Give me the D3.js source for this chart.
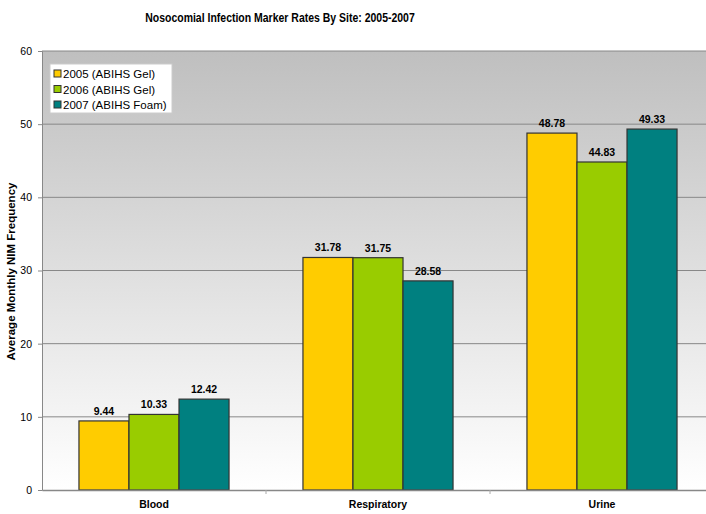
<!DOCTYPE html>
<html>
<head>
<meta charset="utf-8">
<title>Nosocomial Infection Marker Rates</title>
<script src="https://d3js.org/d3.v7.min.js"></script>
<style>
  body { margin: 0; background: #fff; }
  svg text { font-family: "Liberation Sans", Arial, sans-serif; fill: #000; }
</style>
</head>
<body>
<div id="chart"></div>
<script>
// data
const sites = ["Blood", "Respiratory", "Urine"];
const seriesNames = ["2005 (ABIHS Gel)", "2006 (ABIHS Gel)", "2007 (ABIHS Foam)"];
const values2005 = [9.44, 31.78, 48.78];
const values2006 = [10.33, 31.75, 44.83];
const values2007 = [12.42, 28.58, 49.33];
const yTicks = [0, 10, 20, 30, 40, 50, 60];
const colors = ["#ffcc00", "#99cc00", "#008080"];

const series = [values2005, values2006, values2007];

const W = 706, H = 514;
const margin = { top: 51, right: -8, bottom: 24, left: 42 };
const width = W - margin.left - margin.right;
const height = H - margin.top - margin.bottom;

const svg = d3.select("#chart").append("svg")
  .attr("width", W).attr("height", H);

const defs = svg.append("defs");
const grad = defs.append("linearGradient")
  .attr("id", "bg").attr("x1", 0).attr("y1", 0).attr("x2", 0).attr("y2", 1);
grad.append("stop").attr("offset", "0%").attr("stop-color", "#bfbfbf");
grad.append("stop").attr("offset", "100%").attr("stop-color", "#ffffff");

// title (narrow, like the original)
svg.append("text")
  .attr("transform", "translate(280,22) scale(0.86,1)")
  .attr("text-anchor", "middle")
  .style("font-size", "12.2px").style("font-weight", "bold")
  .text("Nosocomial Infection Marker Rates By Site: 2005-2007");

// y axis title
svg.append("text")
  .attr("transform", "translate(15," + (margin.top + height / 2 + 1) + ") rotate(-90)")
  .attr("text-anchor", "middle")
  .style("font-size", "11.5px").style("font-weight", "bold")
  .text("Average Monthly NIM Frequency");

const g = svg.append("g")
  .attr("transform", "translate(" + margin.left + "," + margin.top + ")");

const x0 = d3.scaleBand().domain(sites).range([0, width]).paddingInner(0.33).paddingOuter(0.165);
const x1 = d3.scaleBand().domain(d3.range(series.length)).range([0, x0.bandwidth()]);
const y = d3.scaleLinear().domain([0, 60]).range([height, 0]);

// plot background
g.append("rect")
  .attr("x", 0).attr("y", 0)
  .attr("width", width).attr("height", height)
  .attr("fill", "url(#bg)");

// gridlines
g.selectAll(".grid")
  .data(yTicks.filter(d => d > 0))
  .enter().append("line")
  .attr("class", "grid")
  .attr("x1", 0).attr("x2", width)
  .attr("y1", d => y(d)).attr("y2", d => y(d))
  .attr("stroke", "#888").attr("stroke-width", 1);

// y axis
const yAxis = g.append("g")
  .call(d3.axisLeft(y).tickValues(yTicks).tickSize(4).tickPadding(6));
yAxis.select(".domain").attr("stroke", "#888");
yAxis.selectAll(".tick line").attr("stroke", "#888");
yAxis.selectAll(".tick text")
  .style("font-size", "10.5px").style("font-family", "Liberation Sans, Arial, sans-serif");

// bars
const groups = g.selectAll(".site")
  .data(sites)
  .enter().append("g")
  .attr("class", "site")
  .attr("transform", d => "translate(" + x0(d) + ",0)");

groups.selectAll("rect")
  .data((d, i) => series.map((s, k) => ({ k: k, v: s[i] })))
  .enter().append("rect")
  .attr("x", d => x1(d.k))
  .attr("y", d => y(d.v))
  .attr("width", x1.bandwidth())
  .attr("height", d => height - y(d.v))
  .attr("fill", d => colors[d.k])
  .attr("stroke", "#333")
  .attr("stroke-width", 1.2);

groups.selectAll(".lbl")
  .data((d, i) => series.map((s, k) => ({ k: k, v: s[i] })))
  .enter().append("text")
  .attr("class", "lbl")
  .attr("x", d => x1(d.k) + x1.bandwidth() / 2)
  .attr("y", d => y(d.v) - 6)
  .attr("text-anchor", "middle")
  .style("font-size", "10.5px").style("font-weight", "bold")
  .text(d => d.v.toFixed(2));

// x axis
const xAxis = g.append("g")
  .attr("transform", "translate(0," + height + ")")
  .call(d3.axisBottom(x0).tickSize(0).tickPadding(11));
xAxis.select(".domain").attr("stroke", "#888").attr("stroke-width", 1.5);
xAxis.selectAll(".tick text")
  .style("font-size", "10.5px").style("font-weight", "bold")
  .style("font-family", "Liberation Sans, Arial, sans-serif");

// small ticks between categories
g.selectAll(".sep")
  .data(sites.slice(1))
  .enter().append("line")
  .attr("class", "sep")
  .attr("x1", d => x0(d) - x0.step() * x0.paddingInner() / 2)
  .attr("x2", d => x0(d) - x0.step() * x0.paddingInner() / 2)
  .attr("y1", height).attr("y2", height + 4)
  .attr("stroke", "#aaa");

// legend
const legend = svg.append("g").attr("transform", "translate(50,64)");
legend.append("rect")
  .attr("width", 122).attr("height", 49)
  .attr("fill", "#fff").attr("stroke", "#ccc");
seriesNames.forEach((name, i) => {
  const row = legend.append("g").attr("transform", "translate(4," + (10 + i * 15.5) + ")");
  row.append("rect")
    .attr("x", 0).attr("y", -4).attr("width", 7).attr("height", 7)
    .attr("fill", colors[i]).attr("stroke", "#333");
  row.append("text")
    .attr("x", 9).attr("y", 4)
    .style("font-size", "11.5px")
    .text(name);
});
</script>
</body>
</html>
